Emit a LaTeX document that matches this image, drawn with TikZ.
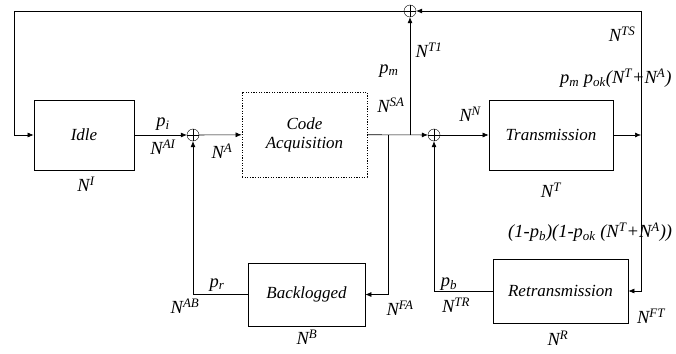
\documentclass[tikz,border=0pt]{standalone}
\usepackage{fontspec}
\setmainfont{Liberation Serif}
\usetikzlibrary{arrows.meta}
\newcommand{\Nx}[1]{N\textsuperscript{#1}}
\newcommand{\px}[1]{p\textsubscript{#1}}

\begin{document}
\begin{tikzpicture}[x=1pt, y=-1pt, font=\fontsize{17}{19}\selectfont\itshape]
    \tikzstyle{box_style} = [draw, thick, minimum width=100pt, minimum height=70pt, inner sep=0pt]
    \tikzstyle{dotbox_style} = [draw, thick, dash pattern=on 1.2pt off 1.4pt, inner sep=0pt, align=center]
    \tikzstyle{sum_style} = [draw, circle, minimum size=12pt, inner sep=0pt,
        path picture={\draw (path picture bounding box.north) -- (path picture bounding box.south)
                            (path picture bounding box.west) -- (path picture bounding box.east);}]
    \tikzstyle{arrow_style} = [-{Latex[length=6pt, width=5pt]}, line width=0.6]
    \tikzstyle{label_style} = [inner sep=0pt, font=\fontsize{18.5}{20}\selectfont\itshape]

    \useasboundingbox (0,0) rectangle (676,353);

    % blocks
    \node[box_style] (idle) at (84,135) {Idle};
    \node[dotbox_style, minimum width=125pt, minimum height=85pt] (acq) at (304.5,134.5) {Code\\Acquisition};
    \node[box_style, minimum width=124pt] (trans) at (551,135) {Transmission};
    \node[box_style, minimum width=117pt, minimum height=63pt] (backlog) at (306.5,294.5) {Backlogged};
    \node[box_style, minimum width=135pt, minimum height=64pt] (retrans) at (560.5,291) {Retransmission};

    % summing points
    \node[sum_style] (sumA) at (193,135) {};
    \node[sum_style] (sumN) at (434,135) {};
    \node[sum_style] (sumT) at (410,11) {};

    \coordinate (fork) at (388,135);
    \coordinate (split) at (410,135);
    \coordinate (tout) at (641,135);
    \coordinate (tr) at (641,11);
    \coordinate (tl) at (14,11);

    % main path
    \draw[arrow_style] (idle) -- (sumA);
    \draw[arrow_style] (sumA) -- (acq);
    \draw[arrow_style] (acq) -- (sumN);
    \draw[arrow_style] (sumN) -- (trans);
    \draw[arrow_style] (trans) -- (tout);

    % branches
    \draw[arrow_style] (split) -- (sumT);
    \draw[arrow_style] (fork) |- (backlog);
    \draw[arrow_style] (backlog) -| (sumA);
    \draw[arrow_style] (tr) |- (retrans);
    \draw[arrow_style] (retrans) -| (sumN);
    \draw[arrow_style] (tr) -- (sumT);
    \draw[arrow_style] (sumT) -- (tl) |- (idle);

    % labels
    \node[label_style] (lpi) at (163,124) {\px{i}};
    \node[label_style] (lnai) at (163,147) {\Nx{AI}};
    \node[label_style] (lna) at (222,151) {\Nx{A}};
    \node[label_style] (lni) at (86,184) {\Nx{I}};
    \node[label_style] (lpm) at (389,71) {\px{m}};
    \node[label_style] (lnt1) at (429,50) {\Nx{T1}};
    \node[label_style] (lnsa) at (391,105) {\Nx{SA}};
    \node[label_style] (lnn) at (470,114) {\Nx{N}};
    \node[label_style] (lnt) at (551,190) {\Nx{T}};
    \node[label_style] (lnts) at (622,34) {\Nx{TS}};
    \node[label_style, anchor=west] (lok) at (560,78) {\px{m} \px{ok}(\Nx{T}+\Nx{A})};
    \node[label_style, anchor=west] (lfail) at (508,232) {(1-\px{b})(1-\px{ok} (\Nx{T}+\Nx{A}))};
    \node[label_style] (lpr) at (217,285) {\px{r}};
    \node[label_style] (lnab) at (185,306) {\Nx{AB}};
    \node[label_style] (lnb) at (307,337) {\Nx{B}};
    \node[label_style] (lnfa) at (400,308) {\Nx{FA}};
    \node[label_style] (lpb) at (449,284) {\px{b}};
    \node[label_style] (lntr) at (456,305) {\Nx{TR}};
    \node[label_style] (lnft) at (651,316) {\Nx{FT}};
    \node[label_style] (lnr) at (558,338) {\Nx{R}};
\end{tikzpicture}
\end{document}
